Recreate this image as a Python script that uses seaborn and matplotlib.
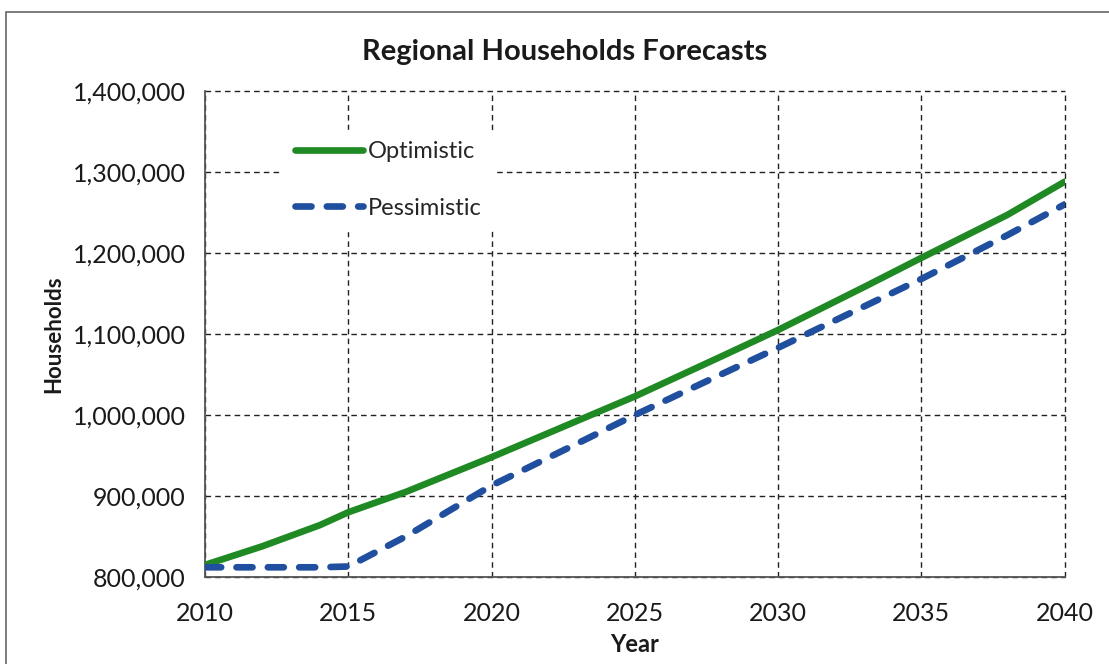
import matplotlib
matplotlib.use("Agg")
import matplotlib.pyplot as plt
from matplotlib.patches import Rectangle
from matplotlib.lines import Line2D
from matplotlib.ticker import FuncFormatter
import seaborn as sns
import pandas as pd

# Household forecasts (in households) by scenario
years = [2010, 2012, 2014, 2015, 2017, 2020, 2023, 2025, 2028, 2030, 2033, 2035, 2038, 2040]
optimistic = [815000, 838000, 864000, 880000, 905000, 948000, 993000, 1023000,
              1072000, 1105000, 1158000, 1194000, 1247000, 1288000]
pessimistic = [812000, 812000, 812000, 813000, 850000, 913000, 965000, 1000000,
               1050000, 1083000, 1134000, 1168000, 1222000, 1260000]
scenarios = ["Optimistic", "Pessimistic"]
x_ticks = [2010, 2015, 2020, 2025, 2030, 2035, 2040]
y_ticks = [800000, 900000, 1000000, 1100000, 1200000, 1300000, 1400000]

df = pd.DataFrame({
    "Year": years * 2,
    "Households": optimistic + pessimistic,
    "Scenario": [scenarios[0]] * len(years) + [scenarios[1]] * len(years),
})

sns.set_theme(style="white")
plt.rcParams["font.family"] = ["Lato", "DejaVu Sans"]

fig = plt.figure(figsize=(11.09, 6.64), dpi=100)
ax = fig.add_axes([0.185, 0.131, 0.775, 0.732])

palette = {"Optimistic": "#1f8a24", "Pessimistic": "#1f4f9e"}
dash_pattern = (2.4, 2.3)
sns.lineplot(data=df, x="Year", y="Households", hue="Scenario", style="Scenario",
             palette=palette, dashes={"Optimistic": "", "Pessimistic": dash_pattern},
             linewidth=4.8, ax=ax, legend=False, zorder=3)
for line in ax.get_lines():
    line.set_dash_capstyle("round")
    line.set_solid_capstyle("round")

ax.set_xlim(2010, 2040)
ax.set_ylim(800000, 1400000)
ax.set_xticks(x_ticks)
ax.set_yticks(y_ticks)
ax.yaxis.set_major_formatter(FuncFormatter(lambda v, p: f"{int(v):,}"))
ax.tick_params(axis="y", labelsize=18, colors="#1a1a1a", length=0, pad=14)
ax.tick_params(axis="x", labelsize=18, colors="#1a1a1a", length=0, pad=18)

ax.grid(True, color="#222222", linestyle=(0, (4, 3)), linewidth=1.0)
ax.set_axisbelow(True)
for gl in ax.get_xgridlines() + ax.get_ygridlines():
    gl.set_clip_on(False)
for side in ["top", "right"]:
    ax.spines[side].set_visible(False)
for side in ["left", "bottom"]:
    ax.spines[side].set_color("#555555")
    ax.spines[side].set_linewidth(1.3)

ax.set_xlabel("Year", fontsize=17, fontweight="bold", color="#1a1a1a", labelpad=6)
ax.set_ylabel("Households", fontsize=16, fontweight="bold", color="#1a1a1a", labelpad=6)
fig.suptitle("Regional Households Forecasts", x=0.509, y=0.942, fontsize=21,
             fontweight="bold", color="#1a1a1a")

# Legend with white backing
handles = [
    Line2D([], [], color=palette["Optimistic"], linewidth=4.8, solid_capstyle="round"),
    Line2D([], [], color=palette["Pessimistic"], linewidth=4.8,
           linestyle=(0, dash_pattern), dash_capstyle="round"),
]
leg = ax.legend(handles, scenarios, loc="upper left", bbox_to_anchor=(0.077, 0.945),
                frameon=True, fontsize=17, handlelength=2.9, handletextpad=0.2,
                labelspacing=1.5, borderpad=0.5)
leg.get_frame().set_facecolor("white")
leg.get_frame().set_edgecolor("white")
leg.get_frame().set_alpha(1.0)

# Chart border
fig.patches.append(Rectangle((0.005, -0.02), 1.02, 1.002,
                             transform=fig.transFigure, fill=False,
                             edgecolor="#666666", linewidth=1.2))

fig.savefig("out.png", dpi=100, facecolor="white")
